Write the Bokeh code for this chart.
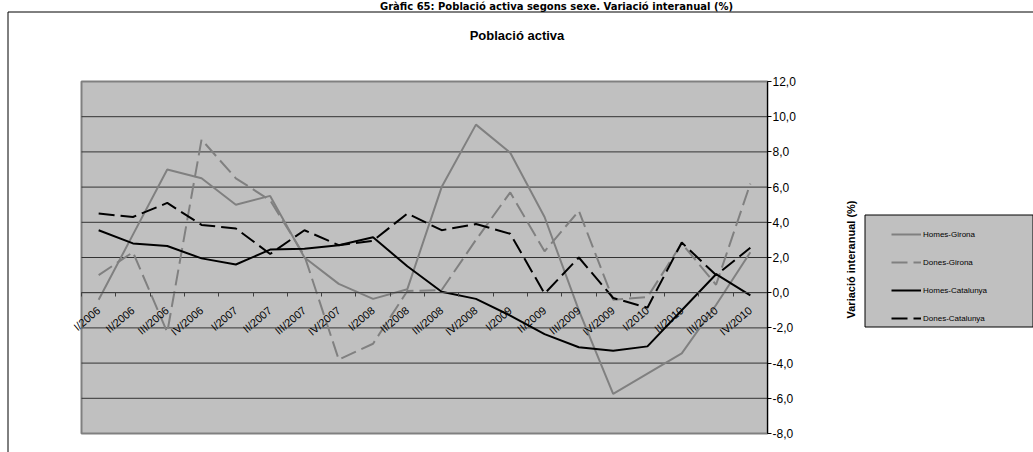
import math
from bokeh.plotting import figure
from bokeh.models import (Range1d, LinearAxis, FixedTicker,
                          Legend, LegendItem, Label)
from bokeh.embed import file_html
from bokeh.resources import INLINE

# ---------------- data ----------------
categories = ["I/2006", "II/2006", "III/2006", "IV/2006",
              "I/2007", "II/2007", "III/2007", "IV/2007",
              "I/2008", "II/2008", "III/2008", "IV/2008",
              "I/2009", "II/2009", "III/2009", "IV/2009",
              "I/2010", "II/2010", "III/2010", "IV/2010"]
homes_girona = [-0.4, 3.3, 7.0, 6.5, 5.0, 5.5, 2.0, 0.5, -0.35, 0.2,
                6.0, 9.55, 7.95, 4.3, -1.0, -5.75, -4.6, -3.45, -0.7, 2.3]
dones_girona = [1.0, 2.3, -2.25, 8.7, 6.5, 5.25, 2.1, -3.8, -2.9, 0.1,
                0.15, 3.0, 5.7, 2.35, 4.65, -0.4, -0.25, 2.8, 0.45, 6.2]
homes_catalunya = [3.55, 2.8, 2.65, 1.95, 1.6, 2.45, 2.5, 2.7, 3.15, 1.5,
                   0.05, -0.35, -1.3, -2.35, -3.1, -3.3, -3.05, -1.0, 1.05, -0.15]
dones_catalunya = [4.5, 4.3, 5.1, 3.85, 3.65, 2.2, 3.55, 2.7, 2.95, 4.5,
                   3.55, 3.9, 3.35, -0.05, 2.0, -0.3, -0.85, 2.85, 1.0, 2.55]
series_names = ["Homes-Girona", "Dones-Girona", "Homes-Catalunya", "Dones-Catalunya"]
y_ticks = [-8, -6, -4, -2, 0, 2, 4, 6, 8, 10, 12]
y_tick_labels = ["-8,0", "-6,0", "-4,0", "-2,0", "0,0", "2,0", "4,0", "6,0", "8,0", "10,0", "12,0"]
doc_title = "Gràfic 65: Població activa segons sexe. Variació interanual (%)"
chart_title = "Població activa"
y_title = "Variació interanual (%)"

FONT = "Liberation Sans"

# ---------------- layout (pixels) ----------------
W, H = 1033, 452
PLOT_L, PLOT_R, PLOT_T, PLOT_B = 81, 767, 81, 433

n_cat = len(categories)
x_pos = [i + 0.5 for i in range(n_cat)]          # category centres
boundaries = list(range(n_cat + 1))              # category edges
y_min, y_max = y_ticks[0], y_ticks[-1]

ppx = (PLOT_R - PLOT_L) / n_cat
ppy = (PLOT_B - PLOT_T) / (y_max - y_min)
x_start = -PLOT_L / ppx
x_end = n_cat + (W - PLOT_R) / ppx
y_end = y_max + PLOT_T / ppy
y_start = y_min - (H - PLOT_B) / ppy


def dx(px):
    return x_start + px / ppx


def dy(py):
    return y_end - py / ppy


p = figure(x_range=Range1d(x_start, x_end), y_range=Range1d(y_start, y_end),
           frame_width=W, frame_height=H,
           min_border=0, min_border_left=0, min_border_right=0,
           min_border_top=0, min_border_bottom=0,
           output_backend="svg", toolbar_location=None,
           x_axis_location=None, y_axis_location="right",
           background_fill_color="white", border_fill_color="white")
p.outline_line_color = None
p.xgrid.visible = False
p.ygrid.visible = False

# outer chart border (left and top edges)
p.segment(x0=[dx(7.5), dx(7.5)], y0=[dy(11.5), dy(11.5)],
          x1=[dx(7.5), dx(W + 10)], y1=[dy(H + 10), dy(11.5)],
          line_color="black", line_width=1)

# legend box
p.quad(left=dx(864.5), right=dx(1032.5), top=dy(214.5), bottom=dy(326.5),
       fill_color="#C0C0C0", line_color="black", line_width=1)

# plot area
p.quad(left=0, right=n_cat, bottom=y_min, top=y_max,
       fill_color="#C0C0C0", line_color="#808080", line_width=2)
# horizontal gridlines
inner = y_ticks[1:-1]
p.segment(x0=[0] * len(inner), x1=[n_cat] * len(inner), y0=inner, y1=inner,
          line_color="#333333", line_width=1)

# y axis (right edge of plot area)
yaxis = p.yaxis[0]
yaxis.fixed_location = n_cat
yaxis.bounds = (y_min, y_max)
yaxis.ticker = FixedTicker(ticks=y_ticks)
yaxis.major_label_overrides = dict(zip(y_ticks, y_tick_labels))
yaxis.major_tick_in = 0
yaxis.major_tick_out = 4
yaxis.minor_tick_line_color = None
yaxis.axis_line_color = "black"
yaxis.major_tick_line_color = "black"
yaxis.major_label_standoff = 1
yaxis.major_label_text_font = FONT
yaxis.major_label_text_font_size = "12px"
yaxis.major_label_text_color = "black"

# x axis crossing at 0: labels at category centres
xaxis = LinearAxis(fixed_location=0, bounds=(0, n_cat),
                   ticker=FixedTicker(ticks=x_pos),
                   major_label_overrides=dict(zip(x_pos, categories)),
                   major_label_orientation=math.radians(40),
                   major_tick_line_color=None,
                   major_tick_in=0, major_tick_out=0,
                   minor_tick_line_color=None,
                   axis_line_color="#404040",
                   major_label_standoff=16,
                   major_label_text_font=FONT,
                   major_label_text_font_size="11px",
                   major_label_text_color="black")
p.add_layout(xaxis, "below")

# tick marks between categories
tick_axis = LinearAxis(fixed_location=0, bounds=(0, n_cat),
                       ticker=FixedTicker(ticks=boundaries),
                       major_tick_in=0, major_tick_out=4,
                       major_tick_line_color="#404040",
                       minor_tick_line_color=None,
                       axis_line_color=None,
                       major_label_overrides={t: "" for t in boundaries})
p.add_layout(tick_axis, "below")

# series
styles = [("#808080", None), ("#808080", "16 6"), ("black", None), ("black", "16 6")]
data = [homes_girona, dones_girona, homes_catalunya, dones_catalunya]
renderers = []
for vals, (col, dash) in zip(data, styles):
    kw = dict(line_color=col, line_width=2)
    if dash:
        kw["line_dash"] = dash
    renderers.append(p.line(x_pos, vals, **kw))

legend = Legend(items=[LegendItem(label=n, renderers=[r]) for n, r in zip(series_names, renderers)],
                location=(891, H - 324), margin=0, padding=6, spacing=16,
                glyph_width=30, glyph_height=12, label_height=12, label_standoff=2,
                label_text_font=FONT, label_text_font_size="8px", label_text_color="black",
                background_fill_alpha=0, border_line_color=None)
p.add_layout(legend)

# texts
p.add_layout(Label(x=dx(556), y=dy(0), text=doc_title,
                   text_align="center", text_baseline="top",
                   text_font="DejaVu Sans", text_font_style="bold", text_font_size="10px",
                   text_color="black"))
p.add_layout(Label(x=dx(516.5), y=dy(35), text=chart_title,
                   text_align="center", text_baseline="middle",
                   text_font=FONT, text_font_style="bold", text_font_size="13px",
                   text_color="black"))
p.add_layout(Label(x=dx(850), y=dy(259), text=y_title,
                   angle=math.pi / 2, text_align="center", text_baseline="middle",
                   text_font=FONT, text_font_style="bold", text_font_size="11px",
                   text_color="black"))

open("out.html", "w").write(file_html(p, INLINE))
